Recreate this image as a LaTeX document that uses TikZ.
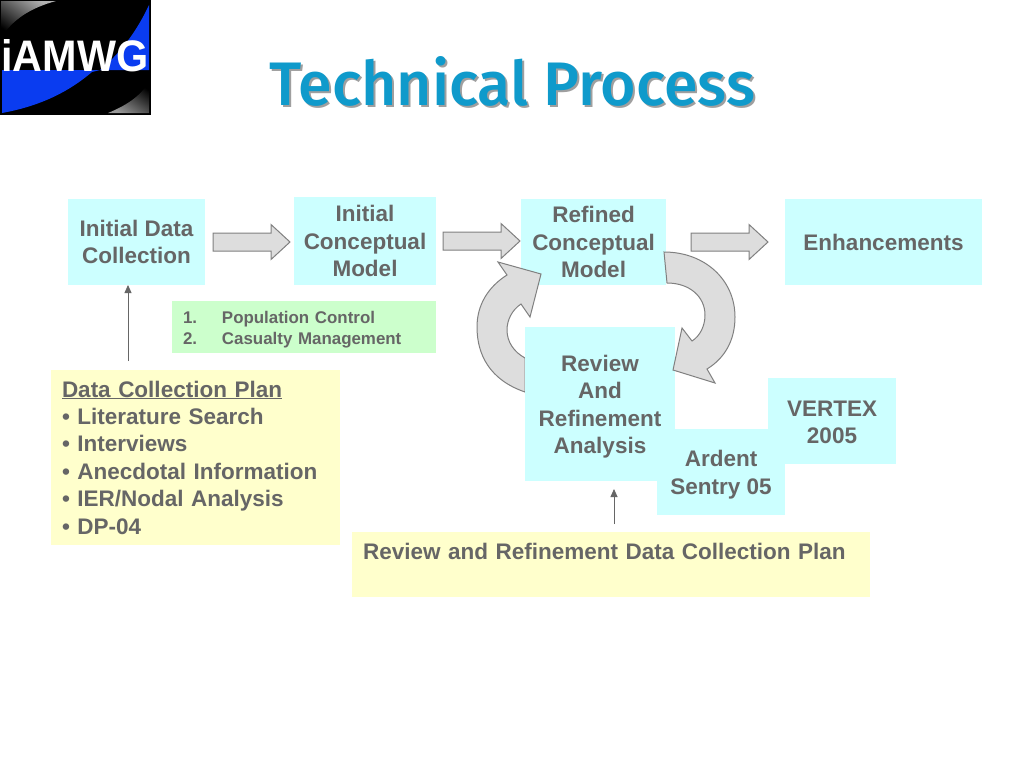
\documentclass[tikz,border=0pt]{standalone}
\usepackage{fontspec}
\usepackage{graphicx}
\setmainfont{Liberation Sans}
\newfontfamily\titlefont{Fira Sans Medium}
\usetikzlibrary{calc,arrows.meta}
\definecolor{boxcyan}{HTML}{CCFFFF}
\definecolor{boxyellow}{HTML}{FFFFCC}
\definecolor{boxgreen}{HTML}{CCFFCC}
\definecolor{inktext}{HTML}{666666}
\definecolor{blockfill}{HTML}{DDDDDD}
\definecolor{blockline}{HTML}{808080}
\definecolor{titleblue}{HTML}{0F9ACB}
\definecolor{logoblue}{HTML}{0A3CF0}
\tikzset{
  panel/.style={anchor=north west,inner sep=0pt,outer sep=0pt,align=center,text=inktext,
    font=\bfseries\fontsize{22.5}{27.4}\selectfont},
  cyanbox/.style={panel,fill=boxcyan},
  blockarrow/.style={fill=blockfill,draw=blockline,line width=1pt,line join=miter},
  thinarrow/.style={draw=inktext,line width=0.8pt,-{Triangle[length=8pt,width=7pt]}},
}
\newcommand{\blockarr}[1]{%
  \path[blockarrow] ($(#1)+(0,-9)$) -- ++(58,0) -- ++(0,-8.5) -- ($(#1)+(77,0)$)
    -- ($(#1)+(58,17.5)$) -- ++(0,-8.5) -- ($(#1)+(0,9)$) -- cycle;}
\begin{document}
\begin{tikzpicture}[x=1pt,y=-1pt]
\useasboundingbox (0,0) rectangle (1024,768);
\fill[white] (0,0) rectangle (1024,768);

% logo
\fill[black] (0,0) rectangle (150,114);
\shade[left color=white!70!black,right color=black,shading angle=-35]
  (1,1) -- (56,1) .. controls (30,8) and (12,20) .. (1,38) -- cycle;
\shade[left color=black,right color=white!60!black,shading angle=-35]
  (149,113) -- (108,113) .. controls (125,106) and (140,97) .. (149,82) -- cycle;
\fill[logoblue] (149,5) .. controls (135,35) and (118,55) .. (100,70)
  -- (92,72) .. controls (65,95) and (35,107) .. (2,113) -- (2,70) -- (149,70) -- cycle;
\node[inner sep=0pt,text=white,font=\bfseries] (logotext) at (75,56)
  {\resizebox{147pt}{32pt}{iAMWG}};
\draw[black,line width=1pt] (0.5,0.5) rectangle (150.5,114.5);

% title
\node[inner sep=0pt,text=gray!75,font=\titlefont\fontsize{60}{60}\selectfont] (titleshadow) at (514.5,83.5)
  {\resizebox{485pt}{49pt}{Technical Process}};
\node[inner sep=0pt,text=titleblue,font=\titlefont\fontsize{60}{60}\selectfont] (title) at (512.5,81.5)
  {\resizebox{485pt}{49pt}{Technical Process}};

% boxes in top row
\node[cyanbox,minimum width=137pt,minimum height=86pt] (initdata) at (68,199) {Initial Data\\Collection};
\node[cyanbox,minimum width=142pt,minimum height=88pt] (initmodel) at (294,197) {Initial\\Conceptual\\Model};
\node[cyanbox,minimum width=145pt,minimum height=86pt] (refined) at (521,199) {Refined\\Conceptual\\Model};
\node[cyanbox,minimum width=197pt,minimum height=86pt] (enh) at (785,199) {Enhancements};

% block arrows
\coordinate (ba1) at ($(initdata.east)+(8,0)$);
\coordinate (ba2) at ($(initmodel.east)+(7,0)$);
\coordinate (ba3) at ($(refined.east)+(25,0)$);
\blockarr{ba1}
\blockarr{ba2}
\blockarr{ba3}

% circular arrow behind the review box
\path[blockarrow] (525,392) .. controls (490,380) and (477,355) .. (477,327)
  .. controls (477,305) and (488,287) .. (507,275)
  -- (498,262) -- (541,274) -- (530,317) -- (521,304)
  .. controls (512,310) and (507,320) .. (507,330)
  .. controls (507,342) and (514,352) .. (525,358) -- cycle;

% lower boxes
\node[panel,fill=boxgreen,minimum width=264pt,minimum height=52pt,
  font=\bfseries\fontsize{16.9}{20.8}\selectfont,align=left,text width=253pt,inner xsep=0pt] (goals) at (172,301)
  {\rule{0pt}{17pt}\hspace*{5.5pt}\makebox[39pt][l]{1.}Population Control\\\hspace*{5.5pt}\makebox[39pt][l]{2.}Casualty Management};
\node[panel,fill=boxyellow,minimum width=289pt,minimum height=175pt,align=left,text width=267pt] (plan) at (51,370)
  {\underline{Data Collection Plan}\\
   • Literature Search\\• Interviews\\• Anecdotal Information\\• IER/Nodal Analysis\\• DP-04};
\node[cyanbox,minimum width=150pt,minimum height=154pt] (review) at (525,327) {\rule{0pt}{22pt}Review\\ And\\Refinement\\Analysis};
\node[cyanbox,minimum width=128pt,minimum height=86pt] (vertex) at (768,378) {\rule{0pt}{18pt}VERTEX\\2005};
\node[cyanbox,minimum width=128pt,minimum height=86pt] (ardent) at (657,429) {\rule{0pt}{22pt}Ardent\\Sentry 05};
\node[panel,fill=boxyellow,minimum width=518pt,minimum height=65pt,align=left,text width=496pt] (revplan) at (352,532)
  {\rule{0pt}{26pt}Review and Refinement Data Collection Plan\\ \strut};

% circular arrow in front of the review box
\path[blockarrow] (664,252) .. controls (705,252) and (735,280) .. (735,317)
  .. controls (735,340) and (725,358) .. (707,369)
  -- (715,383) -- (673,370) -- (682,328) -- (692,341)
  .. controls (700,336) and (705,326) .. (705,315)
  .. controls (705,297) and (690,283) .. (667,283) -- cycle;

% thin arrows
\coordinate (a1end) at ($(initdata.south west)+(60,0)$);
\coordinate (a1start) at ($(plan.north west)+(77,-9)$);
\coordinate (a2end) at ($(review.south west)+(89,8)$);
\coordinate (a2start) at ($(revplan.north west)+(262,-8)$);
\draw[thinarrow] (a1start) -- (a1end);
\draw[thinarrow] (a2start) -- (a2end);
\end{tikzpicture}
\end{document}
